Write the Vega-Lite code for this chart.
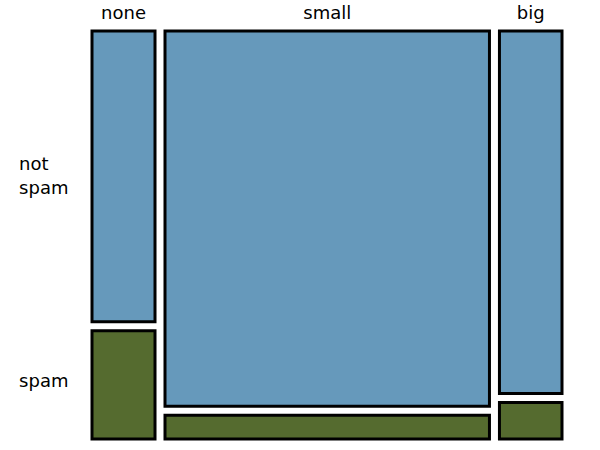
{
  "$schema": "https://vega.github.io/schema/vega-lite/v6.json",
  "width": 470,
  "height": 408,
  "autosize": {"type": "none"},
  "padding": {"left": 92, "top": 31, "right": 38, "bottom": 11},
  "background": "white",
  "config": {"view": {"stroke": null}},
  "data": {
    "values": [
      {"number": "none", "spam": "not spam", "count": 400},
      {"number": "none", "spam": "spam", "count": 149},
      {"number": "small", "spam": "not spam", "count": 2659},
      {"number": "small", "spam": "spam", "count": 168},
      {"number": "big", "spam": "not spam", "count": 495},
      {"number": "big", "spam": "spam", "count": 50}
    ]
  },
  "transform": [
    {"calculate": "indexof(['none','small','big'], datum.number)", "as": "xo"},
    {"calculate": "indexof(['not spam','spam'], datum.spam)", "as": "yo"},
    {"stack": "count", "groupby": [], "sort": [{"field": "xo", "order": "ascending"}, {"field": "yo", "order": "ascending"}], "offset": "normalize", "as": ["sx0", "sx1"]},
    {"window": [{"op": "min", "field": "sx0", "as": "cx0"}, {"op": "max", "field": "sx1", "as": "cx1"}], "groupby": ["number"], "frame": [null, null]},
    {"stack": "count", "groupby": ["number"], "sort": [{"field": "yo", "order": "ascending"}], "offset": "normalize", "as": ["sy0", "sy1"]},
    {"calculate": "datum.cx0 + datum.xo * 0.0222", "as": "x0"},
    {"calculate": "datum.cx1 + datum.xo * 0.0222", "as": "x1"},
    {"calculate": "datum.sy0 + datum.yo * 0.0226", "as": "y0"},
    {"calculate": "datum.sy1 + datum.yo * 0.0226", "as": "y1"},
    {"calculate": "(datum.x0 + datum.x1) / 2", "as": "xm"},
    {"calculate": "(datum.y0 + datum.y1) / 2", "as": "ym"}
  ],
  "layer": [
    {
      "mark": {"type": "rect", "stroke": "black", "strokeWidth": 3},
      "encoding": {
        "x": {"field": "x0", "type": "quantitative", "scale": {"domain": [0, 1.0444], "nice": false, "zero": false}, "axis": null},
        "x2": {"field": "x1"},
        "y": {"field": "y0", "type": "quantitative", "scale": {"domain": [0, 1.0226], "nice": false, "zero": false, "reverse": true}, "axis": null},
        "y2": {"field": "y1"},
        "color": {"field": "spam", "type": "nominal", "scale": {"domain": ["not spam", "spam"], "range": ["#6699BB", "#556B2F"]}, "legend": null}
      }
    },
    {
      "transform": [{"filter": "datum.yo == 0"}],
      "mark": {"type": "text", "font": "DejaVu Sans", "fontSize": 18, "baseline": "alphabetic", "align": "center", "color": "black"},
      "encoding": {
        "x": {"field": "xm", "type": "quantitative"},
        "y": {"datum": -0.03, "type": "quantitative"},
        "text": {"field": "number", "type": "nominal"}
      }
    },
    {
      "transform": [{"filter": "datum.xo == 0 && datum.yo == 0"}],
      "mark": {"type": "text", "font": "DejaVu Sans", "fontSize": 18, "baseline": "middle", "align": "left", "color": "black", "lineBreak": " ", "lineHeight": 24, "dy": -11},
      "encoding": {
        "x": {"datum": -0.162, "type": "quantitative"},
        "y": {"field": "ym", "type": "quantitative"},
        "text": {"field": "spam", "type": "nominal"}
      }
    },
    {
      "transform": [{"filter": "datum.xo == 0 && datum.yo == 1"}],
      "mark": {"type": "text", "font": "DejaVu Sans", "fontSize": 18, "baseline": "middle", "align": "left", "color": "black", "dy": -3},
      "encoding": {
        "x": {"datum": -0.162, "type": "quantitative"},
        "y": {"field": "ym", "type": "quantitative"},
        "text": {"field": "spam", "type": "nominal"}
      }
    }
  ]
}
